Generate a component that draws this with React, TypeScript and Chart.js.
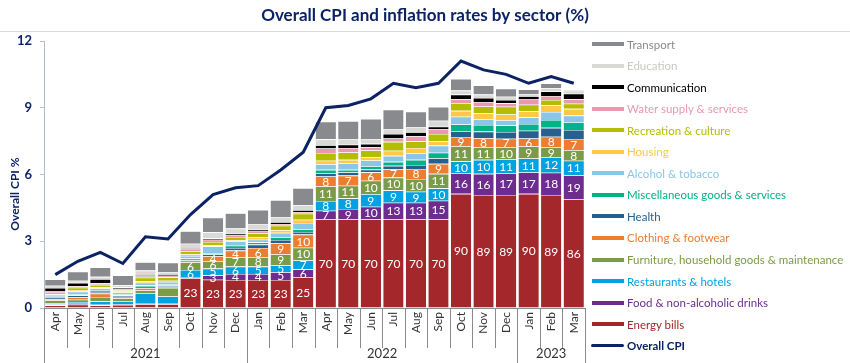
import React, { useEffect, useRef } from 'react';
import { Chart, registerables } from 'chart.js';

Chart.register(...registerables);

// ---------- DATA ----------
const chartTitle = 'Overall CPI and inflation rates by sector (%)';
const months = ['Apr', 'May', 'Jun', 'Jul', 'Aug', 'Sep', 'Oct', 'Nov', 'Dec', 'Jan', 'Feb', 'Mar', 'Apr', 'May', 'Jun', 'Jul', 'Aug', 'Sep', 'Oct', 'Nov', 'Dec', 'Jan', 'Feb', 'Mar'];
const yearLabels = ['2021', '2022', '2023'];
const yearMonthCounts = [9, 12, 3];

const energyBills = [0.12, 0.15, 0.12, 0.14, 0.17, 0.17, 1.34, 1.27, 1.26, 1.26, 1.26, 1.39, 3.98, 3.98, 3.98, 3.98, 3.98, 3.98, 5.13, 5.08, 5.08, 5.13, 5.08, 4.89];
const foodDrinks = [0.04, 0.04, 0.03, 0.02, 0.02, 0.02, 0.02, 0.2, 0.27, 0.27, 0.35, 0.35, 0.39, 0.47, 0.57, 0.75, 0.75, 0.84, 0.93, 0.95, 0.98, 0.96, 1.0, 1.07];
const restaurants = [0.06, 0.08, 0.15, 0.15, 0.48, 0.33, 0.35, 0.3, 0.33, 0.33, 0.3, 0.4, 0.44, 0.48, 0.57, 0.56, 0.5, 0.56, 0.53, 0.63, 0.63, 0.63, 0.7, 0.66];
const furniture = [0.12, 0.1, 0.2, 0.12, 0.12, 0.38, 0.34, 0.34, 0.42, 0.42, 0.5, 0.57, 0.65, 0.57, 0.6, 0.57, 0.57, 0.65, 0.68, 0.57, 0.54, 0.54, 0.45, 0.48];
const clothing = [0.06, 0.12, 0.15, 0.08, 0.1, 0.05, 0.03, 0.22, 0.3, 0.42, 0.5, 0.59, 0.45, 0.45, 0.38, 0.38, 0.45, 0.45, 0.42, 0.4, 0.38, 0.36, 0.47, 0.5];
const health = [0.06, 0.08, 0.07, 0.06, 0.07, 0.06, 0.06, 0.08, 0.12, 0.15, 0.15, 0.12, 0.15, 0.14, 0.12, 0.15, 0.18, 0.25, 0.26, 0.3, 0.3, 0.35, 0.4, 0.4];
const miscGoods = [0.05, 0.05, 0.06, 0.05, 0.06, 0.06, 0.08, 0.06, 0.1, 0.1, 0.12, 0.12, 0.15, 0.12, 0.15, 0.18, 0.23, 0.25, 0.3, 0.3, 0.3, 0.3, 0.35, 0.35];
const alcohol = [0.08, 0.12, 0.1, 0.08, 0.12, 0.1, 0.12, 0.3, 0.2, 0.12, 0.2, 0.28, 0.26, 0.3, 0.26, 0.27, 0.3, 0.32, 0.35, 0.26, 0.23, 0.3, 0.36, 0.3];
const housing = [0.04, 0.07, 0.06, 0.04, 0.07, 0.06, 0.08, 0.06, 0.05, 0.1, 0.12, 0.15, 0.15, 0.15, 0.15, 0.23, 0.23, 0.2, 0.26, 0.27, 0.26, 0.27, 0.3, 0.3];
const recreation = [0.06, 0.1, 0.1, 0.06, 0.15, 0.15, 0.13, 0.14, 0.14, 0.18, 0.2, 0.27, 0.35, 0.33, 0.3, 0.4, 0.3, 0.32, 0.35, 0.3, 0.35, 0.3, 0.24, 0.23];
const waterSupply = [0.05, 0.07, 0.08, 0.06, 0.06, 0.07, 0.08, 0.1, 0.09, 0.09, 0.08, 0.08, 0.2, 0.2, 0.15, 0.15, 0.23, 0.23, 0.18, 0.2, 0.15, 0.23, 0.18, 0.2];
const communication = [0.16, 0.15, 0.18, 0.07, 0.06, 0.07, 0.06, 0.06, 0.06, 0.08, 0.08, 0.08, 0.15, 0.15, 0.15, 0.2, 0.18, 0.1, 0.2, 0.18, 0.15, 0.15, 0.2, 0.25];
const education = [0.1, 0.1, 0.1, 0.1, 0.2, 0.1, 0.2, 0.27, 0.23, 0.26, 0.23, 0.22, 0.26, 0.26, 0.22, 0.23, 0.24, 0.27, 0.18, 0.15, 0.15, 0.1, 0.15, 0.14];
const transport = [0.28, 0.4, 0.42, 0.43, 0.38, 0.42, 0.56, 0.66, 0.69, 0.63, 0.76, 0.77, 0.8, 0.8, 0.9, 0.86, 0.69, 0.62, 0.53, 0.42, 0.36, 0.2, 0.21, 0.06];

const overallCPI = [1.5, 2.1, 2.5, 2.0, 3.2, 3.1, 4.2, 5.1, 5.4, 5.5, 6.2, 7.0, 9.0, 9.1, 9.4, 10.1, 9.9, 10.1, 11.1, 10.7, 10.5, 10.1, 10.4, 10.1];

// inflation-rate labels shown on the segments (null = no label)
const N = null;
const energyRates = [N, N, N, N, N, N, 23, 23, 23, 23, 23, 25, 70, 70, 70, 70, 70, 70, 90, 89, 89, 90, 89, 86];
const foodRates = [N, N, N, N, N, N, N, 3, 4, 4, 5, 6, 7, 9, 10, 13, 13, 15, 16, 16, 17, 17, 18, 19];
const restaurantRates = [N, N, N, N, N, N, 6, 5, 6, 5, 5, 7, 8, 8, 9, 9, 9, 10, 10, 10, 11, 11, 12, 11];
const furnitureRates = [N, N, N, N, N, N, 6, 6, 7, 8, 9, 10, 11, 11, 10, 10, 10, 11, 11, 11, 10, 9, 9, 8];
const clothingRates = [N, N, N, N, N, N, N, 4, 4, 6, 9, 10, 8, 7, 6, 7, 8, 9, 9, 8, 7, 6, 8, 7];

const NAVY = '#0b2265';

// bottom-to-top stack order
const seriesDefs = [
  { name: 'Energy bills', data: energyBills, color: '#a4282b', rates: energyRates },
  { name: 'Food & non-alcoholic drinks', data: foodDrinks, color: '#6e2c91', rates: foodRates },
  { name: 'Restaurants & hotels', data: restaurants, color: '#00a3e0', rates: restaurantRates },
  { name: 'Furniture, household goods & maintenance', data: furniture, color: '#7a9c48', rates: furnitureRates },
  { name: 'Clothing & footwear', data: clothing, color: '#ed7d31', rates: clothingRates },
  { name: 'Health', data: health, color: '#25608f', rates: null },
  { name: 'Miscellaneous goods & services', data: miscGoods, color: '#00b388', rates: null },
  { name: 'Alcohol & tobacco', data: alcohol, color: '#8ac6e8', rates: null },
  { name: 'Housing', data: housing, color: '#ffc845', rates: null },
  { name: 'Recreation & culture', data: recreation, color: '#b5bd00', rates: null },
  { name: 'Water supply & services', data: waterSupply, color: '#e899ae', rates: null },
  { name: 'Communication', data: communication, color: '#000000', rates: null },
  { name: 'Education', data: education, color: '#d9d9d6', rates: null },
  { name: 'Transport', data: transport, color: '#898a8d', rates: null },
];

const legendTextColors: Record<string, string> = {
  Education: '#cbc8bf',
  Transport: '#8a8b8e',
};

const FONT = 'Lato, "Noto Sans", sans-serif';

const segmentLabelPlugin = {
  id: 'segmentLabels',
  afterDatasetsDraw(chart: any) {
    const ctx = chart.ctx;
    ctx.save();
    ctx.fillStyle = '#ffffff';
    ctx.font = `12px ${FONT}`;
    ctx.textAlign = 'center';
    ctx.textBaseline = 'middle';
    seriesDefs.forEach((s, i) => {
      if (!s.rates) return;
      const meta = chart.getDatasetMeta(i);
      meta.data.forEach((el: any, j: number) => {
        const v = s.rates![j];
        if (v == null) return;
        const p = el.getProps(['x', 'y', 'base'], true);
        ctx.fillText(String(v), p.x, (p.y + p.base) / 2 + 0.5);
      });
    });
    ctx.restore();
  },
};

const axisDecorPlugin = {
  id: 'axisDecor',
  afterDraw(chart: any) {
    const ctx = chart.ctx;
    const x = chart.scales.x;
    const area = chart.chartArea;
    const bottom = area.bottom;
    const n = months.length;
    const step = (area.right - area.left) / n;
    ctx.save();
    // title
    ctx.fillStyle = NAVY;
    ctx.font = `bold 17px ${FONT}`;
    ctx.textAlign = 'center';
    ctx.textBaseline = 'middle';
    ctx.fillText(chartTitle, chart.width / 2, 16);

    // rule under title
    ctx.strokeStyle = '#d9d9d9';
    ctx.lineWidth = 1;
    ctx.beginPath();
    ctx.moveTo(0, 31.5);
    ctx.lineTo(chart.width, 31.5);
    ctx.stroke();

    // month separators
    ctx.strokeStyle = '#8c8c8c';
    ctx.lineWidth = 1;
    for (let k = 0; k <= n; k++) {
      const px = Math.round(x.getPixelForValue(k) - step / 2) + 0.5;
      ctx.beginPath();
      ctx.moveTo(px, bottom);
      ctx.lineTo(px, bottom + 40);
      ctx.stroke();
    }
    // year separators and labels
    let start = 0;
    ctx.fillStyle = '#333333';
    ctx.font = `13px ${FONT}`;
    yearLabels.forEach((yl, gi) => {
      const end = start + yearMonthCounts[gi];
      const x0 = x.getPixelForValue(start) - step / 2;
      const x1 = x.getPixelForValue(end - 1) + step / 2;
      [x0, x1].forEach((px) => {
        const rx = Math.round(px) + 0.5;
        ctx.beginPath();
        ctx.moveTo(rx, bottom);
        ctx.lineTo(rx, chart.height);
        ctx.stroke();
      });
      ctx.fillText(yl, (x0 + x1) / 2, bottom + 46);
      start = end;
    });

    // y axis title
    ctx.save();
    ctx.translate(15, 194);
    ctx.rotate(-Math.PI / 2);
    ctx.fillStyle = NAVY;
    ctx.font = `bold 12px ${FONT}`;
    ctx.fillText('Overall CPI %', 0, 0);
    ctx.restore();
    ctx.restore();
  },
};

export default function App() {
  const ref = useRef<HTMLCanvasElement>(null);

  useEffect(() => {
    const canvas = ref.current;
    if (!canvas) return;
    const datasets: any[] = seriesDefs.map((s) => ({
      type: 'bar',
      label: s.name,
      data: s.data,
      backgroundColor: s.color,
      borderColor: 'rgba(255,255,255,0.9)',
      borderWidth: { top: 0.6, bottom: 0, left: 0, right: 0 },
      borderSkipped: false,
      barPercentage: 0.9,
      categoryPercentage: 1.0,
      order: 2,
    }));
    datasets.push({
      type: 'line',
      label: 'Overall CPI',
      data: overallCPI,
      borderColor: NAVY,
      backgroundColor: NAVY,
      borderWidth: 3,
      pointRadius: 0,
      tension: 0,
      order: 0,
      stack: 'cpi',
    });

    const chart = new Chart(canvas, {
      type: 'bar',
      data: { labels: months, datasets },
      options: {
        responsive: false,
        animation: false,
        devicePixelRatio: 1,
        layout: { padding: { top: 41, right: 265, bottom: 0, left: 0 } },
        plugins: {
          legend: { display: false },
          tooltip: { enabled: false },
          title: { display: false },
        },
        scales: {
          x: {
            stacked: true,
            grid: { display: false, drawTicks: false },
            border: { display: true, color: '#8c8c8c' },
            ticks: {
              autoSkip: false,
              minRotation: 90,
              maxRotation: 90,
              padding: 4,
              color: '#333333',
              font: { family: FONT, size: 12 },
            },
            afterFit: (s: any) => {
              s.height = 55;
            },
          },
          y: {
            stacked: true,
            min: 0,
            max: 12,
            ticks: {
              stepSize: 3,
              padding: 8,
              color: NAVY,
              font: { family: FONT, size: 13, weight: 'bold' },
            },
            grid: { display: true, drawOnChartArea: false, drawTicks: true, tickLength: 4, color: '#b4bccb' },
            border: { display: true, color: '#b4bccb' },
            afterFit: (s: any) => {
              s.width = 44;
            },
          },
        },
      } as any,
      plugins: [segmentLabelPlugin, axisDecorPlugin],
    });
    return () => chart.destroy();
  }, []);

  const legendItems = [...seriesDefs].reverse();

  return (
    <div style={{ position: 'absolute', left: 0, top: 0, width: 850, height: 363, background: '#ffffff', overflow: 'hidden' }}>
      <canvas ref={ref} width={850} height={363} style={{ display: 'block', width: 850, height: 363 }} />
      {legendItems.map((s, i) => (
        <div
          key={s.name}
          style={{
            position: 'absolute',
            left: 592,
            top: 44 + i * 21.55 - 8,
            height: 16,
            display: 'flex',
            alignItems: 'center',
            fontFamily: FONT,
            fontSize: 11.5,
            color: legendTextColors[s.name] || s.color,
            whiteSpace: 'nowrap',
          }}
        >
          <span style={{ display: 'inline-block', width: 32, height: 4, background: s.color, marginRight: 3 }} />
          {s.name}
        </div>
      ))}
      <div
        style={{
          position: 'absolute',
          left: 591,
          top: 44 + 14 * 21.55 - 8,
          height: 16,
          display: 'flex',
          alignItems: 'center',
          fontFamily: FONT,
          fontSize: 11.5,
          fontWeight: 'bold',
          color: NAVY,
          whiteSpace: 'nowrap',
        }}
      >
        <span style={{ display: 'inline-block', width: 33, height: 3, borderRadius: 2, background: NAVY, marginRight: 3 }} />
        Overall CPI
      </div>
    </div>
  );
}
